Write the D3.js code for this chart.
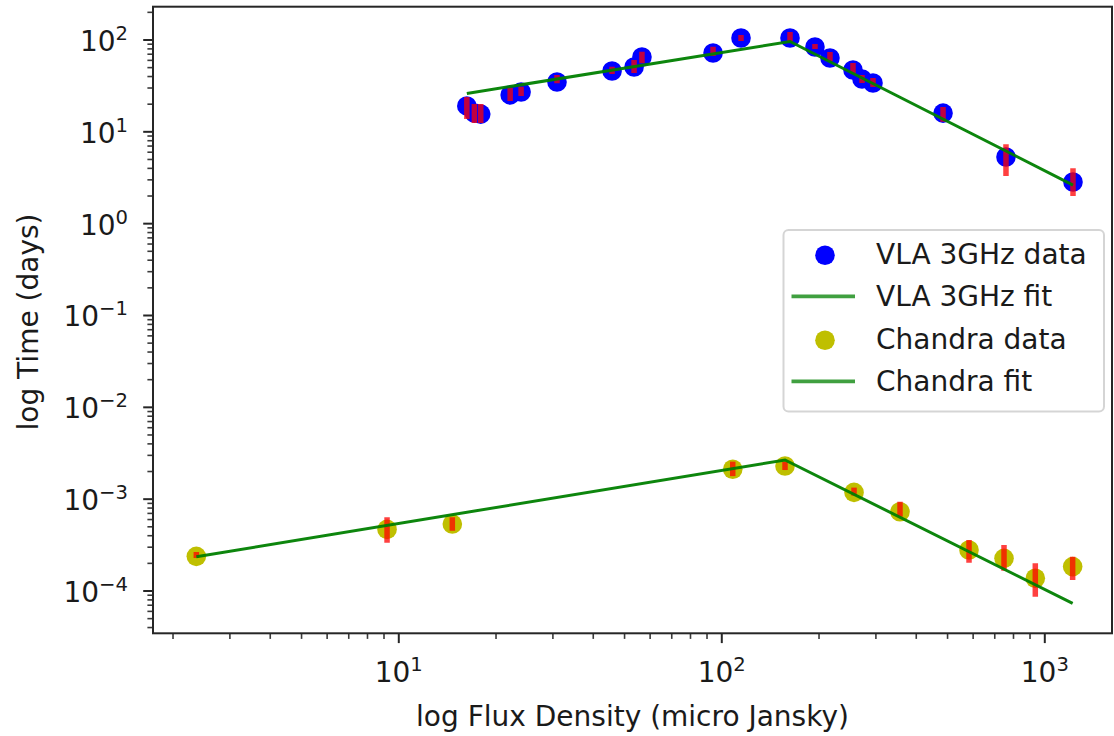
<!DOCTYPE html>
<html>
<head>
<meta charset="utf-8">
<script src="https://cdn.jsdelivr.net/npm/d3@7"></script>
<style>
  body { margin: 0; background: #ffffff; }
  svg { display: block; font-family: "DejaVu Sans", sans-serif; }
</style>
</head>
<body>
<svg id="chart" width="1114" height="736"></svg>
<script>
// VLA 3 GHz radio observations: flux density (micro Jansky) vs time (days)
const vlaFlux   = [16.3, 17.2, 18.0, 22.2, 24.0, 31.0, 45.9, 53.7, 56.8, 94.3, 115.1, 163.2, 195.0, 217.0, 255.7, 272.7, 294.9, 485.9, 761.0, 1227];
const vlaTime   = [18.9, 15.8, 15.4, 24.9, 26.8, 34.4, 45.4, 50.2, 64.5, 71.3, 103.8, 103.8, 82.8, 62.9, 46.5, 37.1, 33.6, 15.8, 5.25, 2.81];
const vlaTimeLo = [13.6, 12.3, 12.3, 21.4, 24.2, 33.3, 42.1, 43.2, 55.1, 66.1, 96.3, 95.1, 78.8, 58.3, 42.1, 33.6, 30.4, 12.7, 3.26, 1.98];
const vlaTimeHi = [23.6, 19.8, 19.8, 29.6, 30.6, 41.1, 50.6, 59.8, 73.6, 83.5, 111.9, 120.7, 89.3, 73.1, 55.5, 41.1, 38.1, 18.4, 7.21, 3.96];

// Broken power-law fit to the VLA points
const vlaFitFlux = [16.3, 163.2, 1227];
const vlaFitTime = [25.8, 95.1, 2.60];

// Chandra X-ray observations
const chandraFlux   = [2.37, 9.23, 14.7, 108.5, 157.5, 257.6, 357.5, 584.7, 750.4, 937.9, 1224];
const chandraTime   = [2.355e-4, 4.63e-4, 5.29e-4, 2.09e-3, 2.27e-3, 1.17e-3, 7.21e-4, 2.76e-4, 2.24e-4, 1.36e-4, 1.82e-4];
const chandraTimeLo = [2.26e-4, 3.31e-4, 4.48e-4, 1.76e-3, 2.05e-3, 1.08e-3, 6.36e-4, 2.01e-4, 1.64e-4, 8.55e-5, 1.30e-4];
const chandraTimeHi = [2.62e-4, 6.26e-4, 6.26e-4, 2.53e-3, 2.51e-3, 1.32e-3, 9.26e-4, 3.54e-4, 3.13e-4, 1.98e-4, 2.33e-4];

// Broken power-law fit to the Chandra points
const chandraFitFlux = [2.37, 157.5, 1224];
const chandraFitTime = [2.33e-4, 2.64e-3, 7.25e-5];

// Axis tick values and labels
const xMajorTicks = [10, 100, 1000];
const yMajorTicks = [1e-4, 1e-3, 1e-2, 1e-1, 1, 10, 100];

const legendLabels = ["VLA 3GHz data", "VLA 3GHz fit", "Chandra data", "Chandra fit"];
const xAxisTitle = "log Flux Density (micro Jansky)";
const yAxisTitle = "log Time (days)";

// ---------------------------------------------------------------
const svg = d3.select("#chart");
const plot = { left: 153, right: 1112, top: 6.7, bottom: 633.3 };
const FONT = 28;
const xDomain = [Math.pow(10, 0.2406), Math.pow(10, 3.2096)];
const yDomain = [Math.pow(10, -4.466), Math.pow(10, 2.357)];

const x = d3.scaleLog().domain(xDomain).range([plot.left, plot.right]);
const y = d3.scaleLog().domain(yDomain).range([plot.bottom, plot.top]);

function minorTicks(domain) {
  const out = [];
  const lo = Math.floor(Math.log10(domain[0]));
  const hi = Math.ceil(Math.log10(domain[1]));
  for (let k = lo; k <= hi; k++) {
    for (let m = 2; m <= 9; m++) {
      const v = m * Math.pow(10, k);
      if (v >= domain[0] && v <= domain[1]) out.push(v);
    }
  }
  return out;
}

function powerLabel(sel) {
  sel.each(function (d) {
    const e = Math.round(Math.log10(d));
    const t = d3.select(this);
    t.text(null);
    t.append("tspan").text("10");
    t.append("tspan")
      .attr("font-size", FONT * 0.7)
      .attr("dy", -11)
      .text(e < 0 ? "\u2212" + Math.abs(e) : String(e));
  });
}

// ---- minor ticks
const gxMinor = svg.append("g")
  .attr("transform", `translate(0,${plot.bottom})`)
  .call(d3.axisBottom(x).tickValues(minorTicks(xDomain)).tickSize(5.6).tickFormat(""));
const gyMinor = svg.append("g")
  .attr("transform", `translate(${plot.left},0)`)
  .call(d3.axisLeft(y).tickValues(minorTicks(yDomain)).tickSize(5.6).tickFormat(""));
[gxMinor, gyMinor].forEach(g => {
  g.select(".domain").remove();
  g.selectAll(".tick line").attr("stroke", "#3a3a3a").attr("stroke-width", 1.6);
});

// ---- major ticks with power-of-ten labels
const gx = svg.append("g")
  .attr("transform", `translate(0,${plot.bottom})`)
  .call(d3.axisBottom(x).tickValues(xMajorTicks).tickSize(9.8).tickFormat(d => d));
const gy = svg.append("g")
  .attr("transform", `translate(${plot.left},0)`)
  .call(d3.axisLeft(y).tickValues(yMajorTicks).tickSize(9.8).tickFormat(d => d));
[gx, gy].forEach(g => {
  g.select(".domain").remove();
  g.attr("font-size", FONT).attr("font-family", "DejaVu Sans, sans-serif");
  g.selectAll(".tick line").attr("stroke", "#262626").attr("stroke-width", 2);
  g.selectAll(".tick text").attr("fill", "#1a1a1a");
});
gx.selectAll(".tick text").attr("y", 49).attr("dy", 0).call(powerLabel);
gy.selectAll(".tick text").attr("x", -25).attr("dy", 11).call(powerLabel);

// ---- plotted data, clipped to the axes box
svg.append("clipPath").attr("id", "plotClip")
  .append("rect")
  .attr("x", plot.left).attr("y", plot.top)
  .attr("width", plot.right - plot.left).attr("height", plot.bottom - plot.top);
const layer = svg.append("g").attr("clip-path", "url(#plotClip)");

const line = d3.line().x(d => x(d[0])).y(d => y(d[1]));

function drawSeries(flux, time, lo, hi, color, fitFlux, fitTime) {
  const g = layer.append("g");
  g.selectAll("circle").data(flux).join("circle")
    .attr("cx", d => x(d))
    .attr("cy", (d, i) => y(time[i]))
    .attr("r", 9.8)
    .attr("fill", color);
  g.selectAll("line.err").data(flux).join("line")
    .attr("class", "err")
    .attr("x1", d => x(d)).attr("x2", d => x(d))
    .attr("y1", (d, i) => y(lo[i]))
    .attr("y2", (d, i) => y(hi[i]))
    .attr("stroke", "#ff0000")
    .attr("stroke-opacity", 0.75)
    .attr("stroke-width", 5.5);
  g.append("path")
    .datum(fitFlux.map((f, i) => [f, fitTime[i]]))
    .attr("d", line)
    .attr("fill", "none")
    .attr("stroke", "#008000")
    .attr("stroke-opacity", 0.95)
    .attr("stroke-width", 3);
}

drawSeries(vlaFlux, vlaTime, vlaTimeLo, vlaTimeHi, "#0000ff", vlaFitFlux, vlaFitTime);
drawSeries(chandraFlux, chandraTime, chandraTimeLo, chandraTimeHi, "#bfbf00", chandraFitFlux, chandraFitTime);

// ---- axes frame
svg.append("rect")
  .attr("x", plot.left).attr("y", plot.top)
  .attr("width", plot.right - plot.left).attr("height", plot.bottom - plot.top)
  .attr("fill", "none")
  .attr("stroke", "#262626")
  .attr("stroke-width", 2);

// ---- axis titles
svg.append("text")
  .attr("x", (plot.left + plot.right) / 2)
  .attr("y", 726)
  .attr("text-anchor", "middle")
  .attr("font-size", FONT)
  .attr("fill", "#1a1a1a")
  .text(xAxisTitle);
svg.append("text")
  .attr("transform", `translate(38,${(plot.top + plot.bottom) / 2 + 2}) rotate(-90)`)
  .attr("text-anchor", "middle")
  .attr("font-size", FONT)
  .attr("fill", "#1a1a1a")
  .text(yAxisTitle);

// ---- legend
const legend = svg.append("g");
legend.append("rect")
  .attr("x", 783.5).attr("y", 230)
  .attr("width", 320.5).attr("height", 181.5)
  .attr("rx", 5)
  .attr("fill", "#ffffff")
  .attr("fill-opacity", 0.8)
  .attr("stroke", "#d5d5d5")
  .attr("stroke-width", 2);

const legendKinds = [
  { type: "dot", color: "#0000ff" },
  { type: "line", color: "#008000" },
  { type: "dot", color: "#bfbf00" },
  { type: "line", color: "#008000" }
];
legendLabels.forEach((lab, i) => {
  const cy = 253.8 + i * 42.5;
  const k = legendKinds[i];
  if (k.type === "dot") {
    legend.append("circle").attr("cx", 825).attr("cy", cy + 1.5).attr("r", 9.8).attr("fill", k.color);
  } else {
    legend.append("line")
      .attr("x1", 791.5).attr("x2", 855)
      .attr("y1", cy).attr("y2", cy)
      .attr("stroke", k.color).attr("stroke-opacity", 0.75)
      .attr("stroke-width", 3.8);
  }
  legend.append("text")
    .attr("x", 876).attr("y", cy + 10)
    .attr("font-size", FONT)
    .attr("fill", "#1a1a1a")
    .text(lab);
});
</script>
</body>
</html>
